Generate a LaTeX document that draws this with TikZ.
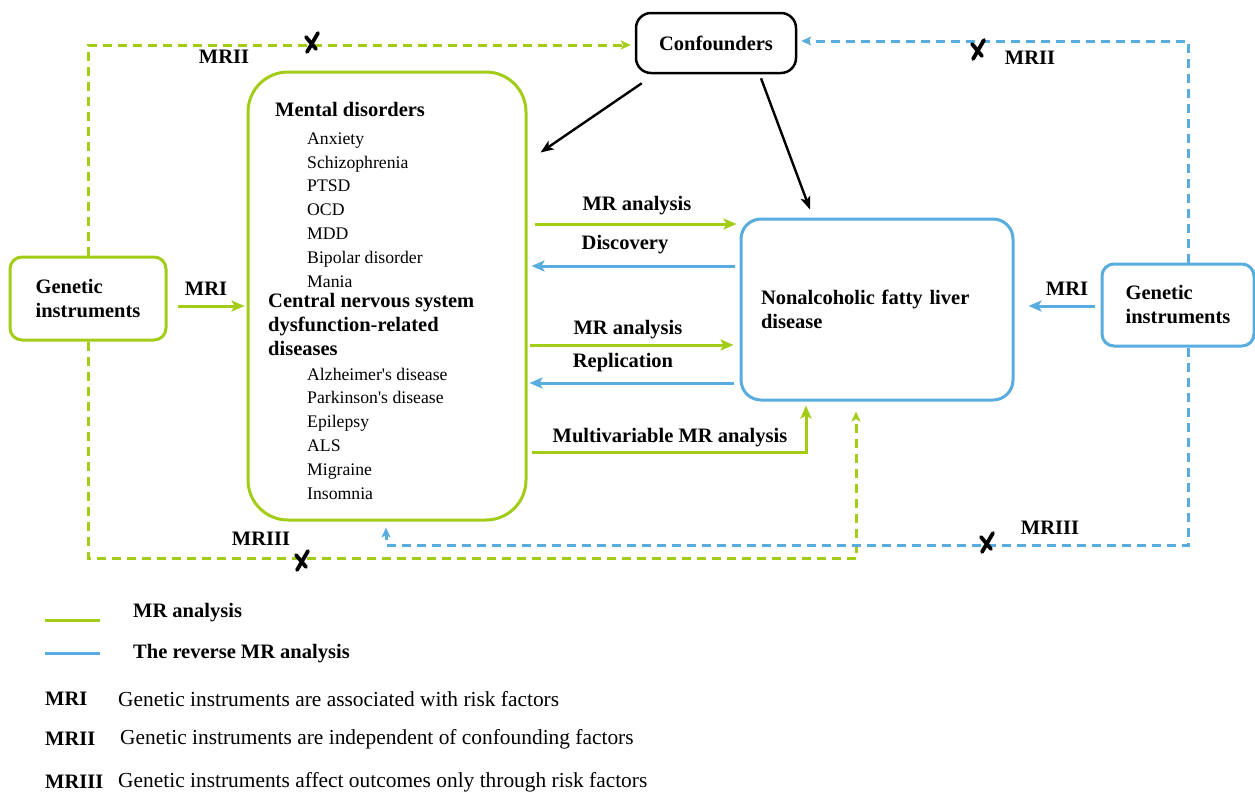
\documentclass[tikz,border=0pt]{standalone}
\usepackage{fontspec}
\setmainfont{Liberation Serif}
\usepackage{xcolor}
\usetikzlibrary{arrows.meta}
\definecolor{mrgreen}{RGB}{162,204,22}
\definecolor{mrblue}{RGB}{88,172,222}
\newcommand{\lblfont}{\bfseries\fontsize{20.5}{24}\selectfont}
\newcommand{\itmfont}{\fontsize{17.7}{23.8}\selectfont}
\newcommand{\notefont}{\fontsize{21.4}{25}\selectfont}

\begin{document}
\begin{tikzpicture}[
    x=1pt, y=-1pt,
    every node/.style={inner sep=0pt},
    lbl/.style={font=\lblfont},
    itm/.style={font=\itmfont, align=left, anchor=base west},
    head/.style={font=\lblfont, align=left, anchor=base west},
    gbox/.style={draw=mrgreen, line width=3pt, rounded corners=12pt, font=\lblfont, align=left},
    bbox/.style={draw=mrblue, line width=3pt, rounded corners=12pt, font=\lblfont, align=left},
    garr/.style={draw=mrgreen, line width=3pt, -{Stealth[length=13pt, width=11pt, inset=3pt]}},
    barr/.style={draw=mrblue, line width=3pt, -{Stealth[length=13pt, width=11pt, inset=3pt]}},
    gdash/.style={draw=mrgreen, line width=3pt, dash pattern=on 9pt off 6pt, -{Stealth[length=10pt, width=9pt, inset=2.5pt]}},
    bdash/.style={draw=mrblue, line width=3pt, dash pattern=on 9pt off 6pt, -{Stealth[length=10pt, width=9pt, inset=2.5pt]}},
    karr/.style={draw=black, line width=2.4pt, -{Stealth[length=13pt, width=10pt, inset=3pt]}},
    xmark/.style={draw=black, line width=3.8pt, line cap=round},
  ]
    \useasboundingbox (0,0) rectangle (1255,793);

    % 方框
    \node[gbox, minimum width=156pt, minimum height=83pt] (gl) at (88,298.5) {Genetic\\instruments};
    \node[bbox, minimum width=152pt, minimum height=82pt] (gr) at (1178,305) {Genetic\\instruments};
    \node[draw, line width=2.5pt, rounded corners=15pt, minimum width=160pt, minimum height=60pt, font=\lblfont] (cf) at (716,43) {Confounders};
    \node[gbox, rounded corners=40pt, minimum width=278pt, minimum height=448pt] (main) at (387,296) {};
    \node[bbox, rounded corners=20pt, minimum width=272pt, minimum height=181pt, text width=232pt] (nafld) at (877,309.5)
      {Nonalcoholic fatty liver\\disease};

    % 主框内的疾病列表（base 取最后一行）
    \node[head] (mdhead) at (275,116) {Mental disorders};
    \node[itm] (mdlist) at (307,287) {Anxiety\\Schizophrenia\\PTSD\\OCD\\MDD\\Bipolar disorder\\Mania};
    \node[head] (cnshead) at (268,355) {Central nervous system\\dysfunction-related\\diseases};
    \node[itm] (cnslist) at (307,499) {Alzheimer\textquotesingle s disease\\Parkinson\textquotesingle s disease\\Epilepsy\\ALS\\Migraine\\Insomnia};

    % MRI 实线箭头
    \draw[garr, shorten <=10pt, shorten >=2pt] (gl.east |- 0,306) -- (main.west |- 0,306);
    \node[lbl] (mril) at (206,289) {MRI};
    \draw[barr, shorten <=6pt, shorten >=14pt] (gr.west |- 0,306) -- (nafld.east |- 0,306);
    \node[lbl] (mrir) at (1067,289) {MRI};

    % 主框与 NAFLD 之间的箭头
    \draw[garr, shorten <=7pt, shorten >=3pt] (main.east |- 0,224) -- (nafld.west |- 0,224);
    \node[lbl] at (637,206) {MR analysis};
    \draw[barr, shorten <=5pt, shorten >=4pt] (nafld.west |- 0,266) -- (main.east |- 0,266);
    \node[lbl] at (625,245) {Discovery};
    \draw[garr, shorten <=2pt, shorten >=6pt] (main.east |- 0,345) -- (nafld.west |- 0,345);
    \node[lbl] at (628,330) {MR analysis};
    \draw[barr, shorten <=6pt, shorten >=2pt] (nafld.west |- 0,383) -- (main.east |- 0,383);
    \node[lbl] at (623,363) {Replication};
    \draw[garr, shorten <=4pt, shorten >=4pt] (main.east |- 0,452) -| ([xshift=-71pt]nafld.south);
    \node[lbl] at (670,438) {Multivariable MR analysis};

    % 混杂因素的黑色箭头
    \draw[karr] ([shift={(7,9)}]cf.south west) -- ([shift={(13,82)}]main.north east);
    \draw[karr] ([shift={(45,4)}]cf.south) -- ([shift={(-67,-8)}]nafld.north);

    % 虚线（MRII、MRIII）
    \draw[gdash, shorten >=4pt] (gl.north) |- ([yshift=-2pt]cf.west);
    \node[lbl] at (224,57) {MRII};
    \draw[bdash, shorten >=4pt] ([xshift=10pt]gr.north) |- ([yshift=2pt]cf.east);
    \node[lbl] at (1030,58) {MRII};
    \coordinate (g3) at (856,558);
    \draw[gdash, shorten >=10pt] (gl.south) |- (g3) -- (g3 |- nafld.south);
    \node[lbl] at (261,539) {MRIII};
    \coordinate (b3) at (386,545);
    \draw[bdash, shorten >=6pt] ([xshift=10pt]gr.south) |- (b3) -- (b3 |- main.south);
    \node[lbl] at (1050,528) {MRIII};

    % 叉号
    \draw[xmark, shift={(312,42)}] (6,-9) -- (-5,10) (-6,-5) -- (4,7);
    \draw[xmark, shift={(978,49)}] (6,-9) -- (-5,10) (-6,-5) -- (4,7);
    \draw[xmark, shift={(302,560)}] (6,-9) -- (-5,10) (-6,-5) -- (4,7);
    \draw[xmark, shift={(987,542)}] (6,-9) -- (-5,10) (-6,-5) -- (4,7);

    % 图例
    \draw[mrgreen, line width=3pt] (45,620) -- (100,620);
    \node[lbl, anchor=west] at (133,613) {MR analysis};
    \draw[mrblue, line width=3pt] (45,653) -- (100,653);
    \node[lbl, anchor=west] at (133,654) {The reverse MR analysis};
    \node[lbl, anchor=west] at (45,699) {MRI};
    \node[font=\notefont, anchor=west] at (118,699) {Genetic instruments are associated with risk factors};
    \node[lbl, anchor=west] at (45,739) {MRII};
    \node[font=\notefont, anchor=west] at (120,739) {Genetic instruments are independent of confounding factors};
    \node[lbl, anchor=west] at (45,782) {MRIII};
    \node[font=\notefont, anchor=west] at (118,782) {Genetic instruments affect outcomes only through risk factors};
  \end{tikzpicture}
\end{document}
